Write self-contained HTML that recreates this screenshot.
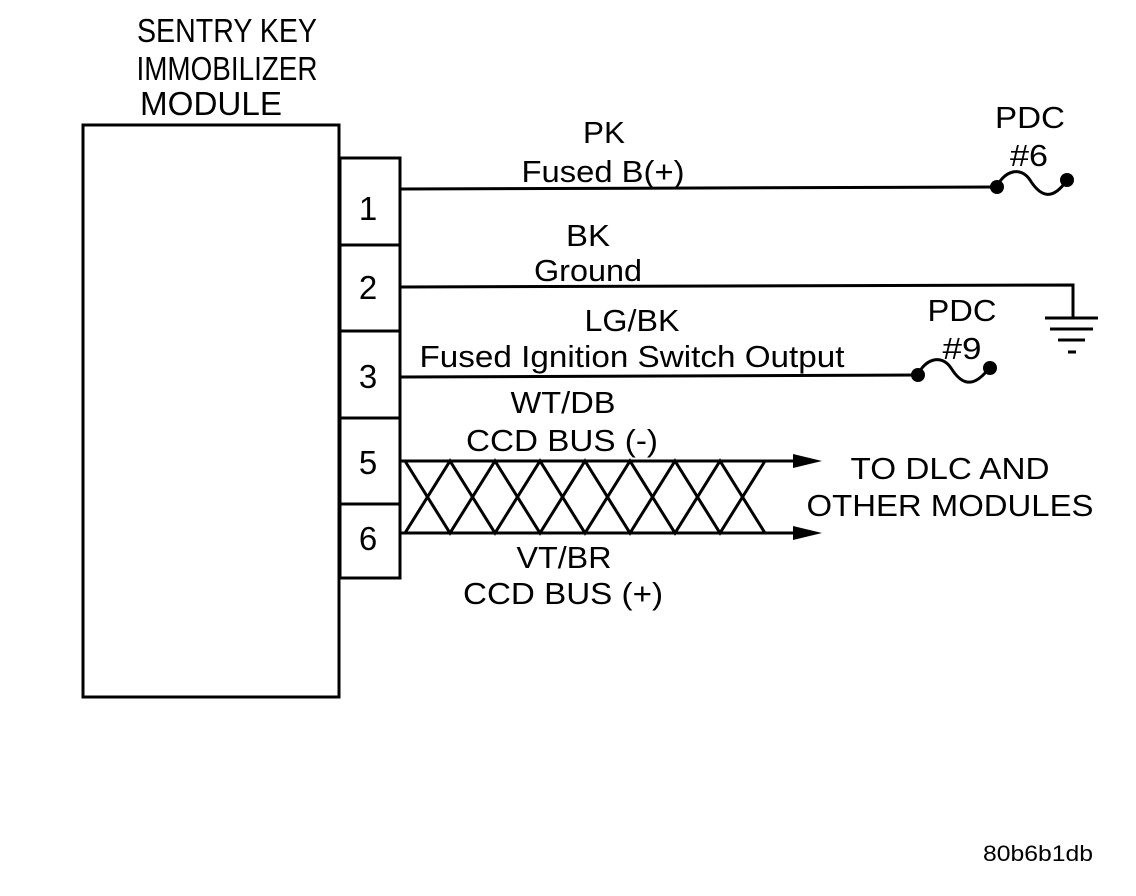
<!DOCTYPE html>
<html><head><style>
html,body{margin:0;padding:0;background:#fff;}
svg{display:block;}
text{font-family:"Liberation Sans",Arial,sans-serif;fill:#000;text-anchor:middle;}
</style></head><body>
<svg width="1136" height="896" viewBox="0 0 1136 896">
<g fill="none" stroke="#000" stroke-width="3">
<rect x="83" y="125" width="256" height="572"/>
<rect x="340" y="158" width="60" height="420"/>
<line x1="340" y1="245" x2="400" y2="245"/>
<line x1="340" y1="331" x2="400" y2="331"/>
<line x1="340" y1="418" x2="400" y2="418"/>
<line x1="340" y1="504" x2="400" y2="504"/>
<line x1="400" y1="189" x2="997" y2="187"/>
<path d="M997 187 C1003 172 1020 165 1030 180 C1040 196 1052 202 1067 180"/>
<polyline points="400,287 1073,285 1073,318"/>
<line x1="1045" y1="318" x2="1098" y2="318"/>
<line x1="1050" y1="329" x2="1093" y2="329"/>
<line x1="1058" y1="340" x2="1085" y2="340"/>
<line x1="1068" y1="352" x2="1076" y2="352"/>
<line x1="400" y1="377" x2="918" y2="375"/>
<path d="M918 375 C924 360 941 353 951 368 C961 384 973 390 990 367"/>
<line x1="400" y1="461" x2="800" y2="461"/>
<line x1="400" y1="533" x2="800" y2="533"/>
<polyline points="405,461 450,533 495,461 540,533 585,461 630,533 675,461 720,533 765,461"/>
<polyline points="405,533 450,461 495,533 540,461 585,533 630,461 675,533 720,461 765,533"/>
</g>
<g fill="#000">
<circle cx="997" cy="187" r="7"/><circle cx="1067" cy="180" r="7"/>
<circle cx="918" cy="375" r="7"/><circle cx="990" cy="368" r="7"/>
<polygon points="793,454 822,461 793,468"/>
<polygon points="793,526 822,533 793,540"/>
</g>
<g font-size="31">
<text x="227" y="42" font-size="33" textLength="180" lengthAdjust="spacingAndGlyphs">SENTRY KEY</text>
<text x="227" y="80" font-size="33" textLength="181" lengthAdjust="spacingAndGlyphs">IMMOBILIZER</text>
<text x="211" y="115" font-size="33" textLength="142" lengthAdjust="spacingAndGlyphs">MODULE</text>
<text x="368" y="220" font-size="33">1</text>
<text x="368" y="299" font-size="33">2</text>
<text x="368" y="388" font-size="33">3</text>
<text x="368" y="474" font-size="33">5</text>
<text x="368" y="550" font-size="33">6</text>
<text x="604" y="143" textLength="42" lengthAdjust="spacingAndGlyphs">PK</text>
<text x="603" y="182" textLength="163" lengthAdjust="spacingAndGlyphs">Fused B(+)</text>
<text x="588" y="246" textLength="44" lengthAdjust="spacingAndGlyphs">BK</text>
<text x="588" y="281" textLength="108" lengthAdjust="spacingAndGlyphs">Ground</text>
<text x="632" y="331" textLength="95" lengthAdjust="spacingAndGlyphs">LG/BK</text>
<text x="632" y="367" textLength="425" lengthAdjust="spacingAndGlyphs">Fused Ignition Switch Output</text>
<text x="563" y="413" textLength="105" lengthAdjust="spacingAndGlyphs">WT/DB</text>
<text x="562" y="451" textLength="192" lengthAdjust="spacingAndGlyphs">CCD BUS (-)</text>
<text x="564" y="568" textLength="95" lengthAdjust="spacingAndGlyphs">VT/BR</text>
<text x="563" y="604" textLength="200" lengthAdjust="spacingAndGlyphs">CCD BUS (+)</text>
<text x="1030" y="128" textLength="70" lengthAdjust="spacingAndGlyphs">PDC</text>
<text x="1029" y="166" textLength="38" lengthAdjust="spacingAndGlyphs">#6</text>
<text x="962" y="321" textLength="69" lengthAdjust="spacingAndGlyphs">PDC</text>
<text x="962" y="359" textLength="39" lengthAdjust="spacingAndGlyphs">#9</text>
<text x="950" y="479" textLength="199" lengthAdjust="spacingAndGlyphs">TO DLC AND</text>
<text x="950" y="516" textLength="287" lengthAdjust="spacingAndGlyphs">OTHER MODULES</text>
</g>
<text x="1038" y="861" font-size="22" textLength="110" lengthAdjust="spacingAndGlyphs">80b6b1db</text>
</svg>
</body></html>
